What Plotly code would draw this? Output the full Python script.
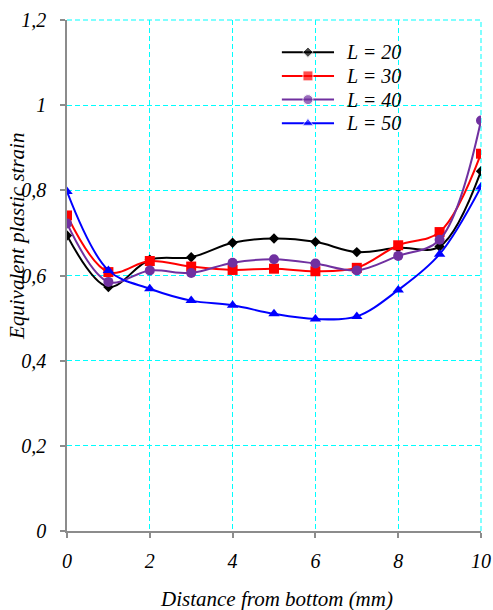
import plotly.graph_objects as go

# Distance from the bottom of the part (mm)
distance = [0, 1, 2, 3, 4, 5, 6, 7, 8, 9, 10]

# Equivalent plastic strain for each L value
strain_l20 = [0.694, 0.573, 0.637, 0.643, 0.677, 0.687, 0.679, 0.655, 0.665, 0.668, 0.845]
strain_l30 = [0.741, 0.608, 0.634, 0.621, 0.613, 0.616, 0.610, 0.618, 0.671, 0.702, 0.886]
strain_l40 = [0.722, 0.585, 0.612, 0.606, 0.630, 0.638, 0.628, 0.612, 0.646, 0.684, 0.964]
strain_l50 = [0.797, 0.612, 0.569, 0.541, 0.530, 0.510, 0.498, 0.504, 0.566, 0.650, 0.808]

series_names = ["L = 20", "L = 30", "L = 40", "L = 50"]
series_values = [strain_l20, strain_l30, strain_l40, strain_l50]
series_colors = ["#000000", "#FF0000", "#7030A0", "#0000FF"]
series_symbols = ["diamond", "square", "circle", "triangle-up"]
series_sizes = [8, 10, 10, 10]

x_ticks = [0, 2, 4, 6, 8, 10]
y_ticks = [0, 0.2, 0.4, 0.6, 0.8, 1.0, 1.2]
y_tick_text = ["0", "0,2", "0,4", "0,6", "0,8", "1", "1,2"]

FONT = "Times New Roman, Liberation Serif, DejaVu Serif"
GRID = "#00FFFF"
GRID_DASH = "5px,3px"

# Legend placement (paper fractions of the plotting area)
LEG_X0, LEG_X1, LEG_TEXT_X = 0.519, 0.645, 0.668
LEG_TOP, LEG_STEP = 0.937, 0.0464

fig = go.Figure()
for name, vals, col, sym, sz in zip(series_names, series_values, series_colors,
                                     series_symbols, series_sizes):
    fig.add_trace(go.Scatter(
        x=distance, y=vals, name=name, mode="lines+markers",
        line=dict(color=col, width=2, shape="spline", smoothing=1.0),
        marker=dict(symbol=sym, size=sz, color=col),
        showlegend=False,
    ))

# Hand-built legend on an overlay axis spanning the plotting area
for i, (name, col, sym, sz) in enumerate(zip(series_names, series_colors,
                                             series_symbols, series_sizes)):
    yrow = LEG_TOP - i * LEG_STEP
    fig.add_trace(go.Scatter(
        x=[LEG_X0, (LEG_X0 + LEG_X1) / 2, LEG_X1], y=[yrow] * 3,
        xaxis="x2", yaxis="y2", mode="lines+markers",
        line=dict(color=col, width=2),
        marker=dict(symbol=sym, size=[0, sz, 0], color=col),
        showlegend=False, hoverinfo="skip",
    ))
    fig.add_annotation(
        text="<i>" + name + "</i>", xref="x2", yref="y2", x=LEG_TEXT_X, y=yrow,
        xanchor="left", yanchor="middle", showarrow=False,
        font=dict(family=FONT, size=20, color="#000000"),
    )

axis_common = dict(
    showline=True, linecolor="#8c8c8c", linewidth=1.5,
    ticks="outside", ticklen=5, tickcolor="#8c8c8c", tickwidth=1.5,
    showgrid=True, gridcolor=GRID, gridwidth=1, griddash=GRID_DASH,
    zeroline=False, mirror=False, automargin=False,
    tickfont=dict(family=FONT, size=20, color="#000000", style="italic"),
)

fig.update_xaxes(range=[0, 10], tickvals=x_ticks, ticklabelstandoff=6,
                 **axis_common)
fig.update_yaxes(range=[0, 1.2], tickvals=y_ticks, ticktext=y_tick_text,
                 ticklabelstandoff=10, **axis_common)

fig.update_layout(
    xaxis2=dict(range=[0, 1], overlaying="x", visible=False, fixedrange=True),
    yaxis2=dict(range=[0, 1], overlaying="y", visible=False, fixedrange=True),
)

# Dashed frame on the top and right edges, continuing the grid
fig.add_shape(type="line", xref="paper", yref="paper", x0=0, x1=1, y0=1, y1=1,
              line=dict(color=GRID, width=1, dash=GRID_DASH), layer="below")
fig.add_shape(type="line", xref="paper", yref="paper", x0=1, x1=1, y0=0, y1=1,
              line=dict(color=GRID, width=1, dash=GRID_DASH), layer="below")

fig.add_annotation(
    text="<i>Equivalent plastic strain</i>", xref="paper", yref="paper",
    x=-0.121, y=0.577, xanchor="center", yanchor="middle", textangle=-90,
    showarrow=False,
    font=dict(family=FONT, size=21, color="#000000"),
)
fig.add_annotation(
    text="<i>Distance from bottom (mm)</i>", xref="paper", yref="paper",
    x=0.507, y=-0.134, xanchor="center", yanchor="middle",
    showarrow=False,
    font=dict(family=FONT, size=21, color="#000000"),
)

fig.update_layout(
    width=493, height=610,
    margin=dict(l=67, r=12, t=20, b=79),
    paper_bgcolor="white", plot_bgcolor="white",
    showlegend=False,
)

fig.write_html("out.html")
